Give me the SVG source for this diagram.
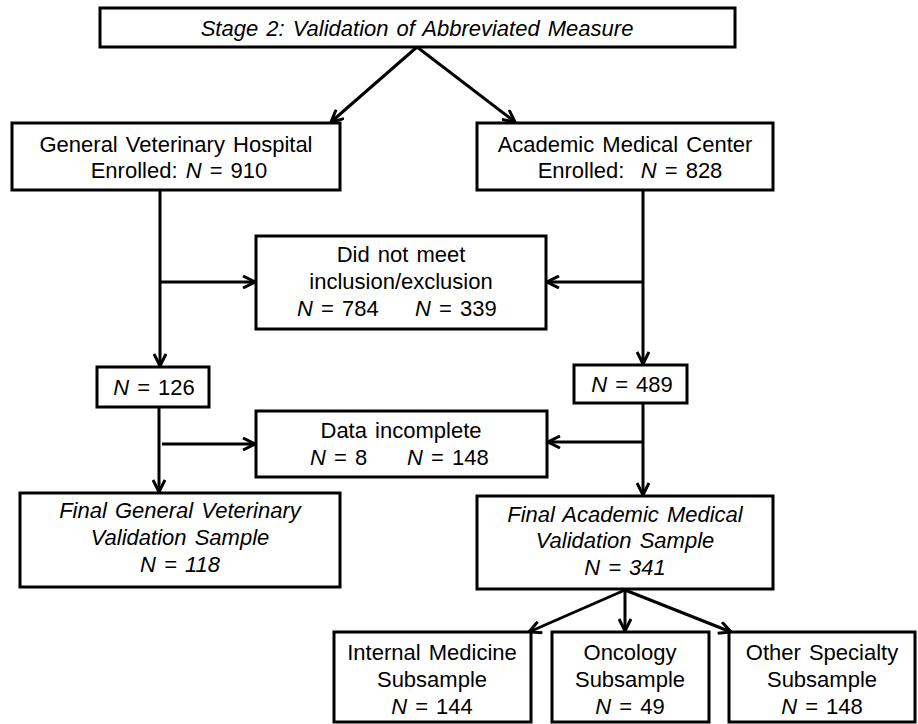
<svg xmlns="http://www.w3.org/2000/svg" width="918" height="724" viewBox="0 0 918 724">
<defs>
<marker id="arr" viewBox="0 0 14 14" refX="13" refY="7" markerWidth="14" markerHeight="14" markerUnits="userSpaceOnUse" orient="auto">
<path d="M1,1 L13,7 L1,13" fill="none" stroke="#000" stroke-width="3" stroke-linejoin="miter"/>
</marker>
<style>
.box{fill:#fff;stroke:#000;stroke-width:3}
.t{font-family:"Liberation Sans",Arial,sans-serif;font-size:22px;fill:#000;text-anchor:middle;word-spacing:2px}
.s{text-anchor:start}
.i{font-style:italic}
.ln{fill:none;stroke:#000;stroke-width:3}
.ar{fill:none;stroke:#000;stroke-width:3;marker-end:url(#arr)}
</style>
</defs>
<rect width="918" height="724" fill="#fff"/>
<g id="connectors">
<path class="ar" d="M417,47 L331,122"/>
<path class="ar" d="M417,47 L515,122"/>
<path class="ar" d="M160,190 L160,366"/>
<path class="ar" d="M160,282 L255,282"/>
<path class="ar" d="M643,190 L643,364"/>
<path class="ar" d="M643,282 L547,282"/>
<path class="ar" d="M159,407 L159,492"/>
<path class="ar" d="M162,444 L255,444"/>
<path class="ar" d="M643,403 L643,495"/>
<path class="ar" d="M643,442 L548,442"/>
<path class="ar" d="M625,590 L529,632"/>
<path class="ar" d="M625,590 L625,631"/>
<path class="ar" d="M625,590 L731,632"/>
</g>
<g id="stage2">
<rect class="box" x="100" y="8" width="635" height="39"/>
<text class="t i" x="417" y="36">Stage 2: Validation of Abbreviated Measure</text>
</g>
<g id="gvh">
<rect class="box" x="12" y="123" width="328" height="67"/>
<text class="t" x="176" y="152">General Veterinary Hospital</text>
<text class="t" x="179" y="178">Enrolled: <tspan class="i">N</tspan> = 910</text>
</g>
<g id="amc">
<rect class="box" x="477" y="123" width="296" height="67"/>
<text class="t" x="625" y="152">Academic Medical Center</text>
<text class="t" x="630" y="178">Enrolled:&#160; <tspan class="i">N</tspan> = 828</text>
</g>
<g id="exclusion">
<rect class="box" x="256" y="236" width="290" height="93"/>
<text class="t" x="401" y="262">Did not meet</text>
<text class="t" x="401" y="289">inclusion/exclusion</text>
<text class="t s" x="297" y="316"><tspan class="i">N</tspan> = 784</text>
<text class="t s" x="415" y="316"><tspan class="i">N</tspan> = 339</text>
</g>
<g id="gv126">
<rect class="box" x="97" y="367" width="112" height="40"/>
<text class="t" x="154" y="395"><tspan class="i">N</tspan> = 126</text>
</g>
<g id="am489">
<rect class="box" x="574" y="365" width="113" height="38"/>
<text class="t" x="632" y="392"><tspan class="i">N</tspan> = 489</text>
</g>
<g id="incomplete">
<rect class="box" x="256" y="411" width="291" height="66"/>
<text class="t" x="401" y="438">Data incomplete</text>
<text class="t s" x="310" y="465"><tspan class="i">N</tspan> = 8</text>
<text class="t s" x="407" y="465"><tspan class="i">N</tspan> = 148</text>
</g>
<g id="finalgv">
<rect class="box" x="20" y="493" width="320" height="94"/>
<text class="t i" x="180" y="518">Final General Veterinary</text>
<text class="t i" x="180" y="545">Validation Sample</text>
<text class="t i" x="180" y="572">N = 118</text>
</g>
<g id="finalam">
<rect class="box" x="477" y="496" width="296" height="93"/>
<text class="t i" x="625" y="522">Final Academic Medical</text>
<text class="t i" x="625" y="548">Validation Sample</text>
<text class="t i" x="625" y="575">N = 341</text>
</g>
<g id="internal">
<rect class="box" x="334" y="632" width="197" height="90"/>
<text class="t" x="432" y="660">Internal Medicine</text>
<text class="t" x="432" y="687">Subsample</text>
<text class="t" x="432" y="714"><tspan class="i">N</tspan> = 144</text>
</g>
<g id="oncology">
<rect class="box" x="552" y="632" width="157" height="90"/>
<text class="t" x="630" y="660">Oncology</text>
<text class="t" x="630" y="687">Subsample</text>
<text class="t" x="630" y="714"><tspan class="i">N</tspan> = 49</text>
</g>
<g id="other">
<rect class="box" x="729" y="632" width="186" height="90"/>
<text class="t" x="822" y="660">Other Specialty</text>
<text class="t" x="822" y="687">Subsample</text>
<text class="t" x="822" y="714"><tspan class="i">N</tspan> = 148</text>
</g>
</svg>
